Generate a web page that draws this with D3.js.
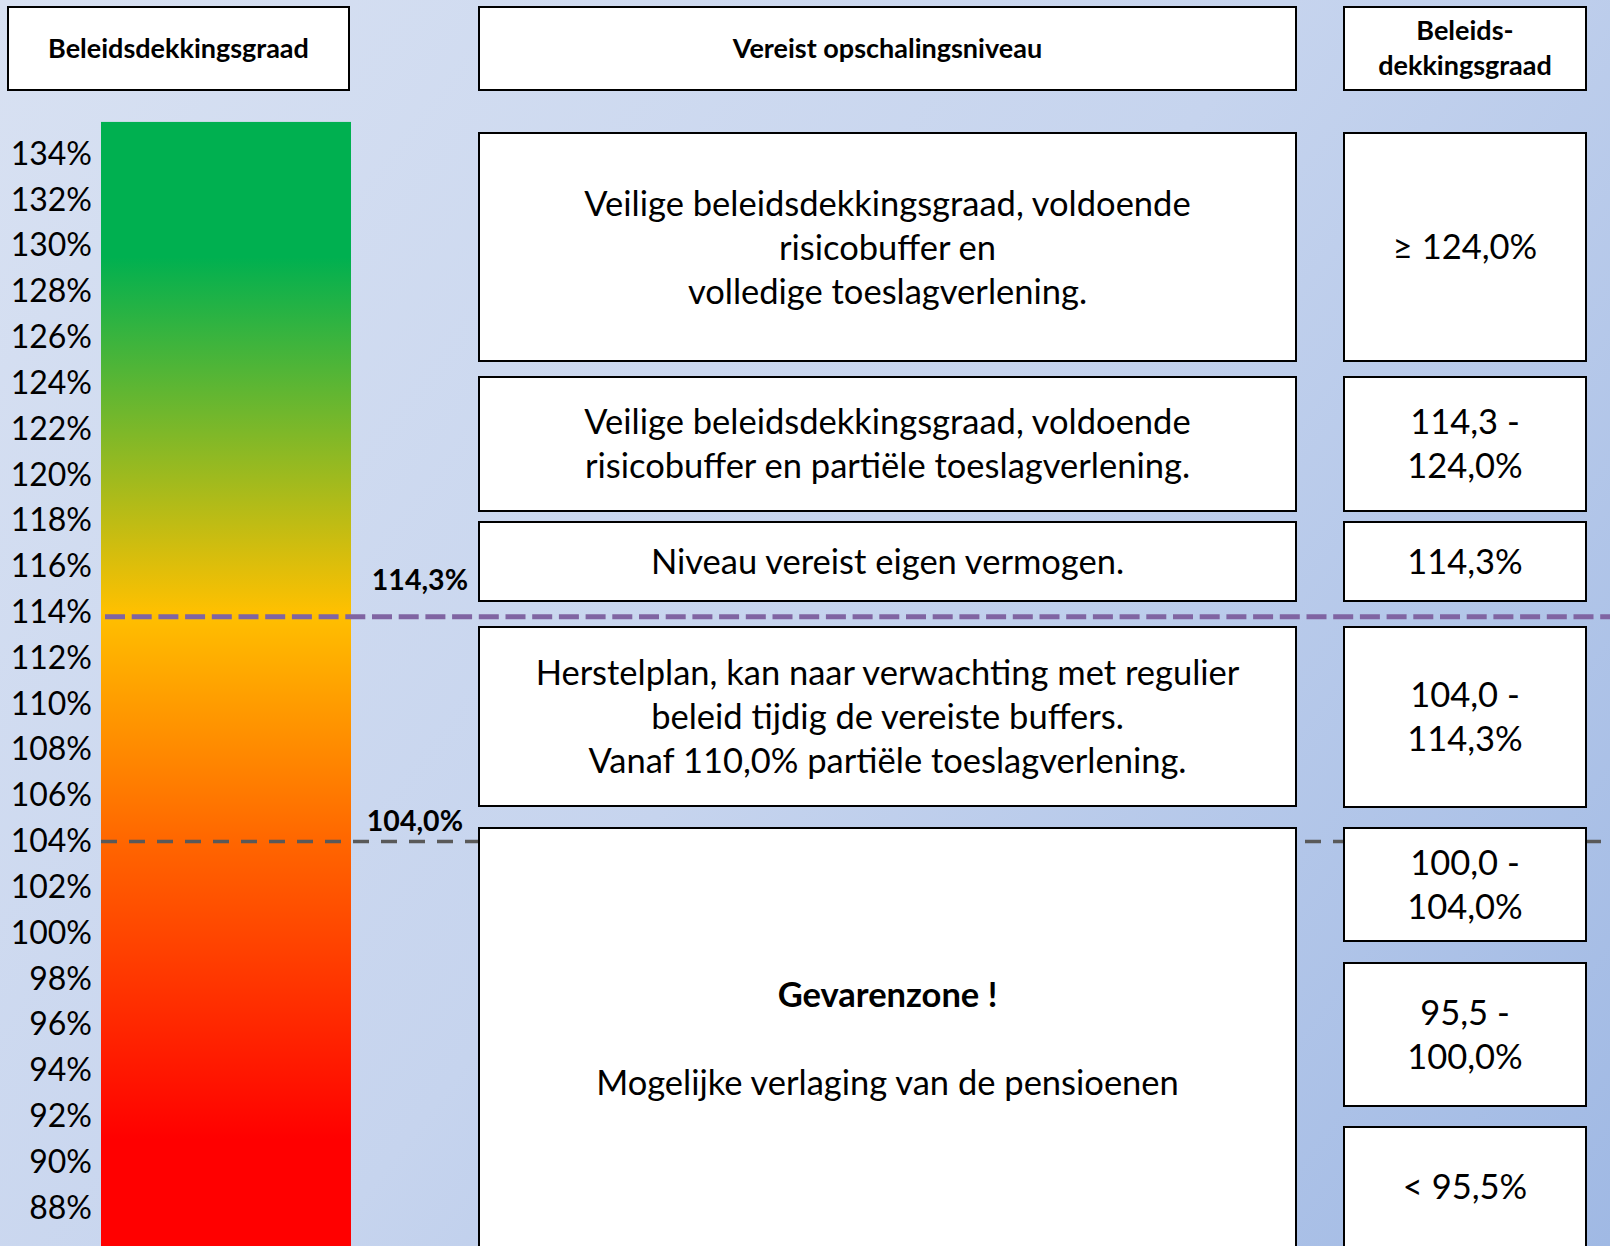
<!DOCTYPE html>
<html>
<head>
<meta charset="utf-8">
<script src="https://cdn.jsdelivr.net/npm/d3@7"></script>
<style>
  html, body { margin: 0; padding: 0; overflow: hidden; }
  text { font-family: Lato, "Open Sans", sans-serif; fill: #000; }
</style>
</head>
<body>
<div id="chart"></div>
<script>
'use strict';

// ---- data ----
const tickValues = d3.range(134, 87, -2);          // 134% .. 88%
const barRange = [135.4, 86];                        // coloured bar top / bottom (in %)
const gradientStops = [
  { v: 129.5, c: '#00B050' },
  { v: 114,   c: '#FFC000' },
  { v: 104,   c: '#FF6600' },
  { v: 91,    c: '#FF0000' }
];
const lineValues = [113.8, 104.0];
const lineLabels = ['114,3%', '104,0%'];
const lineColors = ['#8064A2', '#595959'];

const headers = ['Beleidsdekkingsgraad', 'Vereist opschalingsniveau', ['Beleids-', 'dekkingsgraad']];

const levelTexts = [
  ['Veilige beleidsdekkingsgraad, voldoende', 'risicobuffer en', 'volledige toeslagverlening.'],
  ['Veilige beleidsdekkingsgraad, voldoende', 'risicobuffer en partiële toeslagverlening.'],
  ['Niveau vereist eigen vermogen.'],
  ['Herstelplan, kan naar verwachting met regulier', 'beleid tijdig de vereiste buffers.', 'Vanaf 110,0% partiële toeslagverlening.'],
  ['Gevarenzone !', '', 'Mogelijke verlaging van de pensioenen']
];
const rangeTexts = [
  ['≥ 124,0%'],
  ['114,3 -', '124,0%'],
  ['114,3%'],
  ['104,0 -', '114,3%'],
  ['100,0 -', '104,0%'],
  ['95,5 -', '100,0%'],
  ['< 95,5%']
];

// ---- layout ----
const width = 1610, height = 1246;
const midX = [479, 1296], rightX = [1344, 1586];
const midRows = [[133, 361], [377, 511], [522, 601], [627, 806], [828, 1270]];
const rightRows = [[133, 361], [377, 511], [522, 601], [627, 807], [828, 941], [963, 1106], [1127, 1270]];
const lineH = 44;
const bodySize = 34.5;

const svg = d3.select('#chart').append('svg')
  .attr('width', width)
  .attr('height', height);

const defs = svg.append('defs');

const bg = defs.append('linearGradient')
  .attr('id', 'bg')
  .attr('gradientUnits', 'userSpaceOnUse')
  .attr('x1', 0).attr('y1', 0).attr('x2', width).attr('y2', height);
bg.append('stop').attr('offset', 0).attr('stop-color', '#d8e1f2');
bg.append('stop').attr('offset', 0.5).attr('stop-color', '#c6d4ee');
bg.append('stop').attr('offset', 1).attr('stop-color', '#a0b9e4');

svg.append('rect')
  .attr('width', width).attr('height', height)
  .attr('fill', 'url(#bg)');

const y = d3.scaleLinear().domain([134, 88]).range([154, 1208]);

// coloured bar
const barX = [101, 351];
const grad = defs.append('linearGradient')
  .attr('id', 'bar')
  .attr('gradientUnits', 'userSpaceOnUse')
  .attr('x1', 0).attr('x2', 0)
  .attr('y1', y(barRange[0])).attr('y2', y(barRange[1]));
const off = d3.scaleLinear().domain(barRange).range([0, 1]);
grad.selectAll('stop')
  .data(gradientStops)
  .enter().append('stop')
  .attr('offset', d => off(d.v))
  .attr('stop-color', d => d.c);

svg.append('rect')
  .attr('x', barX[0])
  .attr('y', y(barRange[0]))
  .attr('width', barX[1] - barX[0])
  .attr('height', y(barRange[1]) - y(barRange[0]))
  .attr('fill', 'url(#bar)');

// tick labels
const axis = d3.axisLeft(y)
  .tickValues(tickValues)
  .tickSize(0)
  .tickPadding(0)
  .tickFormat(d => d + '%');
const axisG = svg.append('g')
  .attr('transform', 'translate(92,0)')
  .call(axis);
axisG.select('.domain').remove();
axisG.selectAll('text')
  .attr('font-size', 32)
  .attr('font-family', 'Lato, sans-serif')
  .attr('fill', '#000');

// threshold lines (behind the boxes)
const lines = lineValues.map((v, i) => ({ v: v, label: lineLabels[i], color: lineColors[i] }));
svg.selectAll('.level-line')
  .data(lines)
  .enter().append('line')
  .attr('class', 'level-line')
  .attr('x1', (d, i) => i === 0 ? 105 : barX[0])
  .attr('x2', (d, i) => i === 0 ? width : 1602)
  .attr('y1', d => y(d.v))
  .attr('y2', d => y(d.v))
  .attr('stroke', d => d.color)
  .attr('stroke-width', (d, i) => i === 0 ? 5 : 3.5)
  .attr('stroke-dasharray', (d, i) => i === 0 ? '20,6.7' : '16,12');

const labelOffsets = [37, 20], labelRight = [468, 463];
svg.selectAll('.level-label')
  .data(lines)
  .enter().append('text')
  .attr('class', 'level-label')
  .attr('x', (d, i) => labelRight[i])
  .attr('y', (d, i) => y(d.v) - labelOffsets[i])
  .attr('dy', '0.35em')
  .attr('text-anchor', 'end')
  .attr('font-size', 28.5)
  .attr('font-weight', 'bold')
  .text(d => d.label);

// boxes with centred text
function drawBox(x0, x1, y0, y1, textLines, opts) {
  const g = svg.append('g');
  g.append('rect')
    .attr('x', x0).attr('y', y0)
    .attr('width', x1 - x0).attr('height', y1 - y0)
    .attr('fill', '#fff')
    .attr('stroke', '#000')
    .attr('stroke-width', 2);
  const cx = (x0 + x1) / 2;
  const cy = (y0 + Math.min(y1, height)) / 2 + (opts.shift || 0);
  const lh = opts.lineH || lineH;
  const n = textLines.length;
  g.selectAll('text')
    .data(textLines)
    .enter().append('text')
    .attr('x', cx)
    .attr('y', (d, i) => cy + (i - (n - 1) / 2) * lh)
    .attr('dy', '0.35em')
    .attr('text-anchor', 'middle')
    .attr('font-size', opts.size)
    .attr('font-weight', (d, i) => (opts.bold || (opts.boldFirst && i === 0)) ? 'bold' : 'normal')
    .text(d => d);
}

// headers
drawBox(8, 349, 7, 90, [headers[0]], { size: 27, bold: true });
drawBox(midX[0], midX[1], 7, 90, [headers[1]], { size: 27, bold: true });
drawBox(rightX[0], rightX[1], 7, 90, headers[2], { size: 27, bold: true, lineH: 35 });

// middle column
levelTexts.forEach((t, i) => {
  const r = midRows[i];
  const shift = i === 4 ? 2 : (i === 0 ? 1 : 0);
  drawBox(midX[0], midX[1], r[0], r[1], t, { size: bodySize, boldFirst: i === 4, shift: shift });
});

// right column
rangeTexts.forEach((t, i) => {
  const r = rightRows[i];
  const y1 = i === 6 ? 1250 : r[1];
  drawBox(rightX[0], rightX[1], r[0], y1, t, { size: bodySize });
});
</script>
</body>
</html>
